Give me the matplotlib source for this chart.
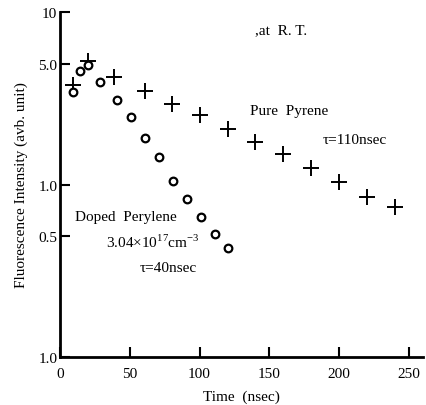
import matplotlib.pyplot as plt
import numpy as np

# Pure Pyrene (crosses)
pyrene_t = [9, 20, 39, 61, 80, 100, 120, 140, 160, 180, 200, 220, 240]
pyrene_i = [3.75, 5.23, 4.2, 3.48, 2.94, 2.52, 2.11, 1.77, 1.50, 1.25, 1.04, 0.85, 0.74]

# Doped Perylene (circles)
perylene_t = [9, 14, 20, 29, 41, 51, 61, 71, 81, 91, 101, 111, 120]
perylene_i = [3.43, 4.54, 4.93, 3.92, 3.1, 2.46, 1.86, 1.45, 1.045, 0.83, 0.65, 0.52, 0.43]

ytick_vals = [0.1, 0.5, 1.0, 5.0, 10]
ytick_labels = ['1.0', '0.5', '1.0', '5.0', '10']
xtick_vals = [50, 100, 150, 200, 250]

plt.rcParams['font.family'] = ['Liberation Serif', 'DejaVu Serif']
plt.rcParams['mathtext.fontset'] = 'custom'
plt.rcParams['mathtext.rm'] = 'Liberation Serif'

fig = plt.figure(figsize=(4.27, 4.06), dpi=100)
ax = fig.add_axes([0.1405, 0.118, 0.850, 0.850])

ax.plot(pyrene_t, pyrene_i, linestyle='none', marker='+', markersize=11,
        markeredgewidth=1.4, color='black')
ax.plot(perylene_t, perylene_i, linestyle='none', marker='o', markersize=5.5,
        markerfacecolor='white', markeredgewidth=1.6, color='black')

ax.set_yscale('log')
ax.set_ylim(0.1, 10)
ax.set_xlim(0, 260)
ax.set_yticks(ytick_vals)
ax.set_yticklabels(ytick_labels)
ax.minorticks_off()
ax.set_xticks([0] + xtick_vals)
ax.set_xticklabels(['0'] + [str(v) for v in xtick_vals])
ax.tick_params(axis='both', direction='in', length=7, width=1.5, labelsize=11)
ax.tick_params(axis='x', pad=7)
ax.tick_params(axis='y', pad=2)
for s in ['top', 'right']:
    ax.spines[s].set_visible(False)
for s in ['left', 'bottom']:
    ax.spines[s].set_linewidth(2)

ax.set_xlabel('Time  (nsec)', fontsize=11, labelpad=7)
ax.set_ylabel('Fluorescence Intensity (avb. unit)', fontsize=11, labelpad=7)

ax.text(0.538, 0.938, ',at  R. T.', transform=ax.transAxes, fontsize=11)
ax.text(136, 2.56, 'Pure  Pyrene', fontsize=11)
ax.text(188, 1.75, 'τ=110nsec', fontsize=11)
ax.text(11, 0.62, 'Doped  Perylene', fontsize=11)
ax.text(33, 0.437, r'3.04$\times$10$^{17}$cm$^{-3}$', fontsize=11)
ax.text(57, 0.315, 'τ=40nsec', fontsize=11)

fig.savefig('out.png', dpi=100)
